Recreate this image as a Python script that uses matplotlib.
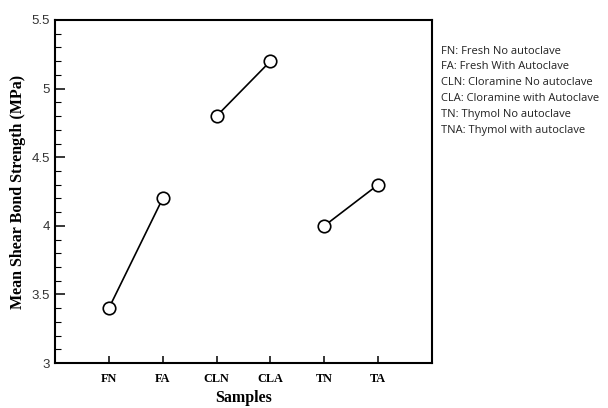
import numpy as np
import matplotlib
matplotlib.use('Agg')
import matplotlib.pyplot as plt
from matplotlib.ticker import MultipleLocator

# --------- data
samples = ['FN', 'FA', 'CLN', 'CLA', 'TN', 'TA']
strength = [3.4, 4.2, 4.8, 5.2, 4.0, 4.3]
pairs = [(0, 1), (2, 3), (4, 5)]

legend_lines = [
    'FN: Fresh No autoclave',
    'FA: Fresh With Autoclave',
    'CLN: Cloramine No autoclave',
    'CLA: Cloramine with Autoclave',
    'TN: Thymol No autoclave',
    'TNA: Thymol with autoclave',
]

fig = plt.figure(figsize=(6.08, 4.08), dpi=100)
ax = fig.add_axes([0.0905, 0.110, 0.620, 0.841])

x = np.arange(1, len(samples) + 1)
for a, b in pairs:
    ax.plot([x[a], x[b]], [strength[a], strength[b]], color='k', linewidth=1.2,
            marker='o', markersize=9, markerfacecolor='white', markeredgecolor='k',
            markeredgewidth=1.2)

ax.set_xlim(0, 7)
ax.set_ylim(3, 5.5)
ax.set_xticks(x)
ax.set_xticklabels(samples, family='Liberation Serif', fontweight='bold', fontsize=8.8)
ax.set_yticks([3, 3.5, 4, 4.5, 5, 5.5])
ax.set_yticklabels(['3', '3.5', '4', '4.5', '5', '5.5'])
ax.yaxis.set_minor_locator(MultipleLocator(0.1))
for lab in ax.get_yticklabels():
    lab.set_family('Liberation Sans')
    lab.set_fontsize(9.5)
    lab.set_color('#333333')

ax.tick_params(axis='both', which='both', direction='in', top=False, right=False)
ax.tick_params(axis='y', which='major', length=7, width=1.1)
ax.tick_params(axis='y', which='minor', length=4, width=0.8)
ax.tick_params(axis='x', which='major', length=5, width=1.1, pad=7)
for s in ax.spines.values():
    s.set_linewidth(1.5)

ax.set_xlabel('Samples', family='Liberation Serif', fontweight='bold', fontsize=11.5, labelpad=4)
ax.set_ylabel('Mean Shear Bond Strength (MPa)', family='Liberation Serif', fontweight='bold',
              fontsize=11.5, labelpad=4)

# text key to the right of the axes
for i, t in enumerate(legend_lines):
    fig.text(441 / 608, 1 - (51 + i * 15.8) / 408, t, family='Open Sans', fontsize=8.0,
             va='center', ha='left', color='#222222')

fig.savefig('out.png', dpi=100)
